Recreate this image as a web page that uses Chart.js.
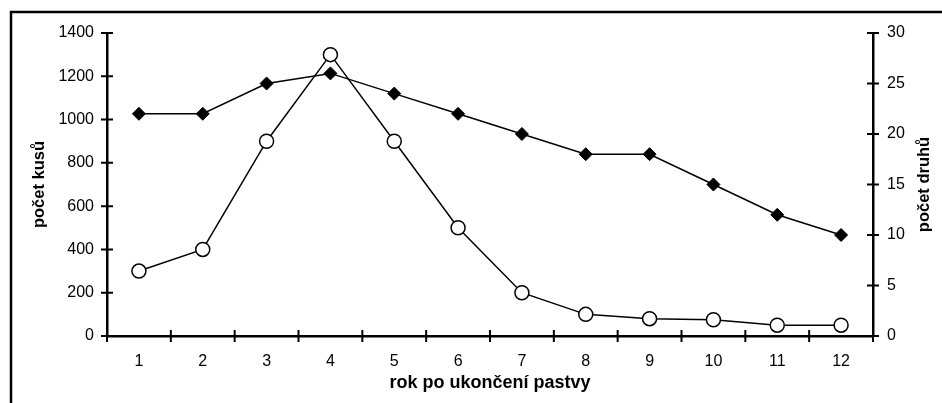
<!DOCTYPE html>
<html>
<head>
<meta charset="utf-8">
<script src="https://cdn.jsdelivr.net/npm/chart.js@4/dist/chart.umd.min.js"></script>
<style>
  html, body { margin: 0; padding: 0; background: #fff; }
  canvas { display: block; }
</style>
</head>
<body>
<canvas id="chart" width="942" height="403"></canvas>
<script>
// data
const years = ['1', '2', '3', '4', '5', '6', '7', '8', '9', '10', '11', '12'];
const pocetKusu = [300, 400, 900, 1300, 900, 500, 200, 100, 80, 75, 50, 50];
const pocetDruhu = [22, 22, 25, 26, 24, 22, 20, 18, 18, 15, 12, 10];
const leftTicks = [0, 200, 400, 600, 800, 1000, 1200, 1400];
const rightTicks = [0, 5, 10, 15, 20, 25, 30];

const FONT = "'Liberation Sans', Arial, sans-serif";

// outer frame (left and top edges visible in the reference)
const frame = {
  id: 'frame',
  beforeDraw(chart) {
    const ctx = chart.ctx;
    ctx.save();
    ctx.strokeStyle = '#000';
    ctx.lineWidth = 2.5;
    ctx.beginPath();
    ctx.moveTo(11, 410);
    ctx.lineTo(11, 12);
    ctx.lineTo(950, 12);
    ctx.stroke();
    ctx.restore();
  }
};

// tick marks crossing the axes, and the right title read bottom-to-top
const crossTicks = {
  id: 'crossTicks',
  afterDraw(chart) {
    const { ctx, scales: { x, y, y1 } } = chart;
    ctx.save();
    ctx.strokeStyle = '#000';
    ctx.lineWidth = 2;
    ctx.beginPath();
    y.ticks.forEach((t, i) => {
      const py = y.getPixelForTick(i);
      ctx.moveTo(y.right - 6, py); ctx.lineTo(y.right + 6, py);
    });
    y1.ticks.forEach((t, i) => {
      const py = y1.getPixelForTick(i);
      ctx.moveTo(y1.left - 6, py); ctx.lineTo(y1.left + 6, py);
    });
    for (let i = 0; i <= years.length; i++) {
      const px = x.getPixelForValue(i - 0.5);
      ctx.moveTo(px, x.top - 6); ctx.lineTo(px, x.top + 6);
    }
    ctx.stroke();

    ctx.fillStyle = '#000';
    ctx.font = 'bold 16.5px ' + FONT;
    ctx.textAlign = 'center';
    ctx.textBaseline = 'middle';
    ctx.translate(y1.right - 18, (y1.top + y1.bottom) / 2);
    ctx.rotate(-Math.PI / 2);
    ctx.fillText(y1.options.title.text, 0, 0);
    ctx.restore();
  }
};

const plain = v => String(v);

new Chart(document.getElementById('chart'), {
  type: 'line',
  data: {
    labels: years,
    datasets: [{
      label: 'počet druhů',
      data: pocetDruhu,
      yAxisID: 'y1',
      borderColor: '#000',
      borderWidth: 1.5,
      pointStyle: 'rectRot',
      pointRadius: 6.5,
      pointBackgroundColor: '#000',
      pointBorderColor: '#000',
      pointBorderWidth: 1,
      tension: 0
    }, {
      label: 'počet kusů',
      data: pocetKusu,
      yAxisID: 'y',
      borderColor: '#000',
      borderWidth: 1.5,
      pointStyle: 'circle',
      pointRadius: 7,
      pointBackgroundColor: '#fff',
      pointBorderColor: '#000',
      pointBorderWidth: 1.5,
      tension: 0
    }]
  },
  options: {
    responsive: false,
    animation: false,
    layout: { padding: { top: 33, left: 0, right: 0, bottom: 0 } },
    plugins: {
      legend: { display: false },
      tooltip: { enabled: false }
    },
    scales: {
      x: {
        offset: true,
        grid: { display: false, drawTicks: false, offset: true },
        border: { display: true, color: '#000', width: 2.5 },
        ticks: { color: '#000', font: { family: FONT, size: 16 }, padding: 16, maxRotation: 0 },
        title: {
          display: true, text: 'rok po ukončení pastvy', color: '#000',
          font: { family: FONT, size: 18, weight: 'bold' },
          padding: { top: 0, bottom: 9 }
        },
        afterFit(s) { s.height = 67; }
      },
      y: {
        position: 'left',
        min: 0, max: 1400,
        afterBuildTicks(s) { s.ticks = leftTicks.map(v => ({ value: v })); },
        grid: { display: false, drawTicks: false },
        border: { display: true, color: '#000', width: 2.5 },
        ticks: { color: '#000', font: { family: FONT, size: 16 }, padding: 13, callback: plain },
        title: {
          display: true, text: 'počet kusů', color: '#000',
          font: { family: FONT, size: 16.5, weight: 'bold' },
          padding: { top: 30, bottom: 0 }
        },
        afterFit(s) { s.width = 107; }
      },
      y1: {
        position: 'right',
        min: 0, max: 30,
        afterBuildTicks(s) { s.ticks = rightTicks.map(v => ({ value: v })); },
        grid: { display: false, drawTicks: false },
        border: { display: true, color: '#000', width: 2.5 },
        ticks: { color: '#000', font: { family: FONT, size: 16 }, padding: 14, callback: plain },
        title: { display: false, text: 'počet druhů' },
        afterFit(s) { s.width = 69; }
      }
    }
  },
  plugins: [frame, crossTicks]
});
</script>
</body>
</html>
